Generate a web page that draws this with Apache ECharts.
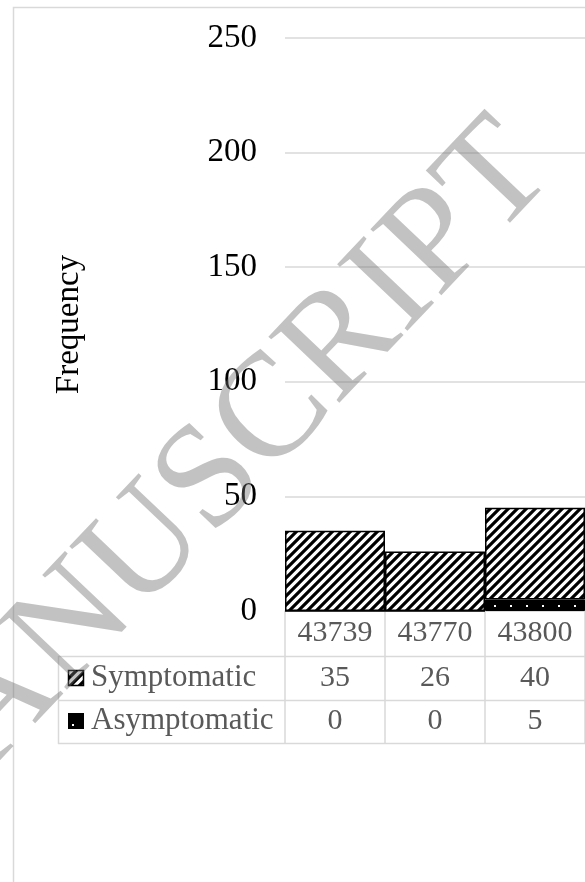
<!DOCTYPE html>
<html>
<head>
<meta charset="utf-8">
<script src="https://cdn.jsdelivr.net/npm/echarts@6/dist/echarts.min.js"></script>
<style>
html,body{margin:0;padding:0;background:#fff;}
#main{width:585px;height:882px;}
</style>
</head>
<body>
<div id="main"></div>
<script>
var CATEGORIES = ['43739', '43770', '43800'];
var SYMPTOMATIC = [35, 26, 40];
var ASYMPTOMATIC = [0, 0, 5];
var Y_TICKS = [0, 50, 100, 150, 200, 250];
var ROW_NAMES = ['Symptomatic', 'Asymptomatic'];

var FONT = '"Liberation Serif", "Times New Roman", serif';
var LINE_GRAY = '#d9d9d9';
var TEXT_GRAY = '#595959';

// motif hachuré "/"
function makeHatch(){
    var c = document.createElement('canvas');
    c.width = 9; c.height = 9;
    var ctx = c.getContext('2d');
    ctx.fillStyle = '#fff';
    ctx.fillRect(0, 0, 9, 9);
    ctx.strokeStyle = '#000';
    ctx.lineWidth = 3.2;
    ctx.beginPath();
    ctx.moveTo(-2, 11); ctx.lineTo(11, -2);
    ctx.moveTo(-2, 2); ctx.lineTo(2, -2);
    ctx.moveTo(7, 11); ctx.lineTo(11, 7);
    ctx.stroke();
    return c;
}
// noir avec petits points blancs
function makeDots(){
    var c = document.createElement('canvas');
    c.width = 16; c.height = 16;
    var ctx = c.getContext('2d');
    ctx.fillStyle = '#000';
    ctx.fillRect(0, 0, 16, 16);
    ctx.fillStyle = '#fff';
    ctx.fillRect(14, 13, 2, 2);
    return c;
}
var hatch = makeHatch();
var dots = makeDots();

var chart = echarts.init(document.getElementById('main'));
chart.setOption({
    animation: false,
    grid: {
        left: 285,
        right: -3,
        top: 38,
        bottom: 271
    },
    xAxis: {
        type: 'category',
        data: CATEGORIES,
        axisLine: { lineStyle: { color: LINE_GRAY, width: 1.5 } },
        axisTick: {
            show: true,
            interval: 0,
            length: 132,
            lineStyle: { color: LINE_GRAY, width: 1.5 }
        },
        axisLabel: {
            interval: 0,
            margin: 7,
            fontFamily: FONT,
            fontSize: 30,
            color: TEXT_GRAY
        }
    },
    yAxis: {
        type: 'value',
        min: Y_TICKS[0],
        max: Y_TICKS[Y_TICKS.length - 1],
        interval: Y_TICKS[1] - Y_TICKS[0],
        name: 'Frequency',
        nameLocation: 'middle',
        nameGap: 199,
        nameRotate: 90,
        nameTextStyle: { fontFamily: FONT, fontSize: 33, color: '#000' },
        axisLine: { show: false },
        axisTick: { show: false },
        axisLabel: { margin: 28, fontFamily: FONT, fontSize: 33, color: '#000' },
        splitLine: { lineStyle: { color: LINE_GRAY, width: 1.5 } }
    },
    series: [
        {
            name: ROW_NAMES[1],
            type: 'bar',
            stack: 'total',
            barCategoryGap: 0,
            data: ASYMPTOMATIC,
            itemStyle: { color: { image: dots, repeat: 'repeat' }, borderColor: '#000', borderWidth: 1 }
        },
        {
            name: ROW_NAMES[0],
            type: 'bar',
            stack: 'total',
            barCategoryGap: 0,
            data: SYMPTOMATIC,
            itemStyle: { color: { image: hatch, repeat: 'repeat' }, borderColor: '#000', borderWidth: 1.5 }
        }
    ]
});

// tableau de données sous l'axe
var rowY = [678, 721];
var rowVals = [SYMPTOMATIC, ASYMPTOMATIC];
var els = [];
els.push({
    type: 'polyline',
    shape: { points: [[13.5, 882], [13.5, 7.5], [585, 7.5]] },
    style: { stroke: LINE_GRAY, lineWidth: 1.5, fill: null }
});
[656.5, 700.5, 743.5].forEach(function(y){
    els.push({ type: 'line', shape: { x1: 58, y1: y, x2: 585, y2: y }, style: { stroke: LINE_GRAY, lineWidth: 1.5 } });
});
els.push({ type: 'line', shape: { x1: 58.5, y1: 656, x2: 58.5, y2: 744 }, style: { stroke: LINE_GRAY, lineWidth: 1.5 } });

CATEGORIES.forEach(function(cat, i){
    var x = chart.convertToPixel({ xAxisIndex: 0 }, cat);
    rowVals.forEach(function(vals, r){
        els.push({
            type: 'text', x: x, y: rowY[r],
            style: { text: String(vals[i]), font: '30px ' + FONT, fill: TEXT_GRAY, align: 'center', verticalAlign: 'middle' }
        });
    });
});
ROW_NAMES.forEach(function(name, r){
    els.push({
        type: 'text', x: 91, y: rowY[r],
        style: { text: name, font: '31px ' + FONT, fill: TEXT_GRAY, align: 'left', verticalAlign: 'middle' }
    });
});
// légendes
els.push({ type: 'rect', shape: { x: 68.5, y: 670.5, width: 15, height: 15 }, style: { fill: { image: hatch, repeat: 'repeat' }, stroke: '#000', lineWidth: 1.5 } });
els.push({ type: 'rect', shape: { x: 68, y: 713, width: 16, height: 16 }, style: { fill: '#000' } });
els.push({ type: 'rect', shape: { x: 72, y: 724, width: 2, height: 2 }, style: { fill: '#fff' } });

// filigrane
els.push({
    type: 'text', x: 200, y: 493, rotation: 46.5 * Math.PI / 180, z: 100,
    style: { text: 'MANUSCRIPT', font: '148px ' + FONT, fill: 'rgba(110,110,110,0.42)', align: 'center', verticalAlign: 'middle' }
});

chart.setOption({ graphic: { elements: els } });
</script>
</body>
</html>
